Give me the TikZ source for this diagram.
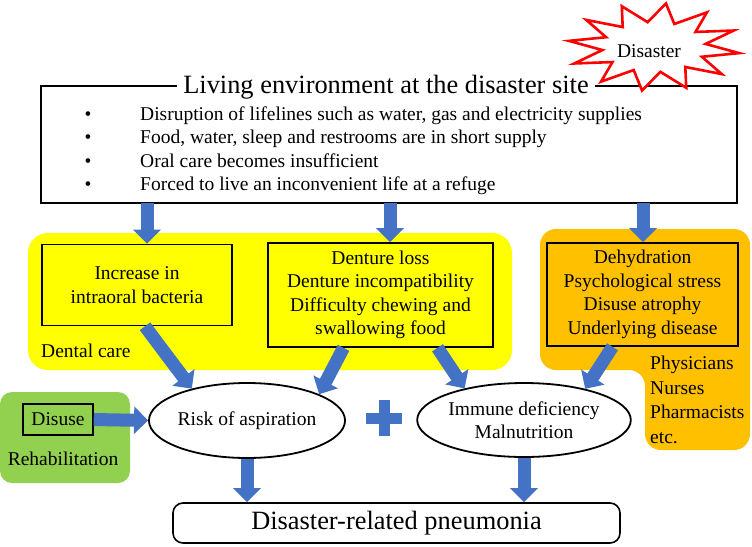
\documentclass[tikz,border=0pt]{standalone}
\usepackage{fontspec}
\setmainfont{Liberation Serif}
\usetikzlibrary{arrows.meta,positioning,shapes.geometric}
\definecolor{BoxYellow}{RGB}{255,255,  0}
\definecolor{BoxOrange}{RGB}{255,192,  0}
\definecolor{BoxGreen} {RGB}{146,208, 80}
\definecolor{ArrowBlue}{RGB}{ 68,114,196}
\newcommand{\txtsize}{\fontsize{19.5}{23.5}\selectfont}
\newcommand{\bigsize}{\fontsize{26.4}{30}\selectfont}

\begin{document}
\begin{tikzpicture}[x=1pt,y=-1pt,
  blockarrow/.style={ArrowBlue,line width=13pt,-{Triangle[width=27pt,length=14pt]}},
  causebox/.style={draw,line width=1.6pt,fill=BoxYellow,align=center,font=\txtsize,inner sep=0pt},
  riskoval/.style={draw,ellipse,line width=1.8pt,fill=white,align=center,font=\txtsize,inner sep=0pt}]
\useasboundingbox (0,0) rectangle (752,546);
\fill[BoxYellow,rounded corners=20pt] (28,233) rectangle (512,370);
\fill[BoxOrange,rounded corners=16pt] (540,229) -- (750,229) -- (750,450) -- (645,450) -- (645,370) -- (540,370) -- cycle;
\fill[BoxGreen,rounded corners=12pt] (0,392) rectangle (130,483);
\node[draw,line width=1.6pt,minimum width=696pt,minimum height=117pt,inner sep=0pt] (site) at (389,144.5) {};
\node[fill=white,font=\bigsize,inner xsep=6pt,inner ysep=0pt,anchor=base] (title) at (386,93) {Living environment at the disaster site};
\foreach \t [count=\i] in {{Disruption of lifelines such as water, gas and electricity supplies},
    {Food, water, sleep and restrooms are in short supply},
    {Oral care becomes insufficient},
    {Forced to live an inconvenient life at a refuge}}
  {\node[font=\txtsize,anchor=base,inner sep=0pt] (b\i) at (88,97+23.4*\i) {\textbullet};
   \node[font=\txtsize,anchor=base west,inner sep=0pt] (l\i) at (140,97+23.4*\i) {\t};}
\draw[red,line width=2.6pt,fill=white] plot[samples at={0,...,23}]
  ({654+cos(\x*15+8)*(isodd(\x)?52:86)},{47+sin(\x*15+8)*(isodd(\x)?25:44)}) -- cycle;
\node[font=\txtsize,inner sep=0pt] (burst) at (649,51) {Disaster};
\node[causebox,minimum width=190pt,minimum height=81pt] (bact) at (137,285) {Increase in\\intraoral bacteria};
\node[causebox,minimum width=225pt,minimum height=104pt] (dent) at (380.5,295) {Denture loss\\Denture incompatibility\\Difficulty chewing and\\swallowing food};
\node[causebox,fill=BoxOrange,minimum width=191pt,minimum height=103pt] (dehy) at (642.5,294.5) {Dehydration\\Psychological stress\\Disuse atrophy\\Underlying disease};
\node[font=\txtsize,anchor=base west,inner sep=0pt] (dental) at (41,357) {Dental care};
\node[font=\fontsize{19.5}{24.7}\selectfont,align=left,anchor=west,inner sep=0pt] (staff) at (650,400) {Physicians\\Nurses\\Pharmacists\\etc.};
\node[riskoval,minimum width=190pt,minimum height=75pt] (risk) at (247,420.5) {Risk of aspiration};
\node[riskoval,minimum width=188pt,minimum height=74pt] (immune) at (524,420) {Immune deficiency\\Malnutrition};
\node[draw,line width=1.4pt,font=\txtsize,minimum width=70pt,minimum height=31pt,inner sep=0pt] (disuse) at (58,419.5) {Disuse};
\node[font=\txtsize,inner sep=0pt] (rehab) at (63,459) {Rehabilitation};
\node[draw,line width=1.6pt,rounded corners=10pt,minimum width=447pt,minimum height=40pt,font=\bigsize] (final) at (396.5,523) {Disaster-related pneumonia};
\fill[ArrowBlue] (366,412.5) rectangle (402,423.5);
\fill[ArrowBlue] (378.5,400) rectangle (389.5,436);
\coordinate (d1) at (147,203);
\coordinate (d2) at (390,203);
\coordinate (d3) at (643,203);
\draw[blockarrow] (d1) -- (d1 |- bact.north);
\draw[blockarrow] (d2) -- (d2 |- dent.north);
\draw[blockarrow] (d3) -- (d3 |- dehy.north);
\draw[blockarrow] ([xshift=8pt]bact.south) -- (risk.150);
\draw[blockarrow] ([xshift=-37pt]dent.south) -- (risk.20);
\draw[blockarrow] ([xshift=57pt]dent.south) -- (immune.152);
\draw[blockarrow] ([xshift=-30pt]dehy.south) -- (immune.27);
\draw[blockarrow] (disuse.east) -- (risk.west);
\draw[blockarrow] (risk.south) -- (risk.south |- final.north);
\draw[blockarrow] (immune.south) -- (immune.south |- final.north);
\end{tikzpicture}
\end{document}
